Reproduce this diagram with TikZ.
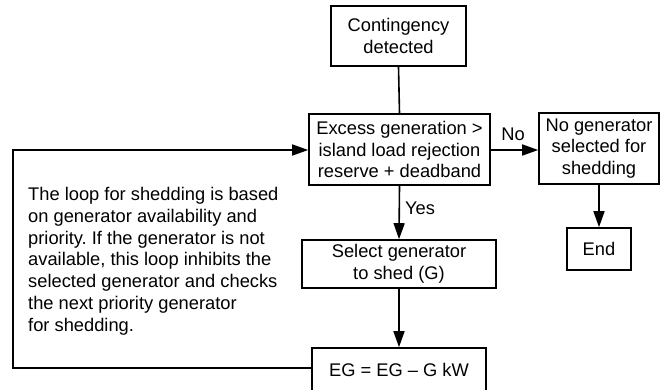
\documentclass[tikz,border=0pt]{standalone}
\usepackage{fontspec}
\setmainfont{Liberation Sans}
\usetikzlibrary{arrows.meta}
\frenchspacing
\begin{document}
\begin{tikzpicture}[x=1pt,y=-1pt,
  every node/.style={font=\fontsize{18.3}{21.8}\selectfont},
  box/.style={draw,line width=1.6pt,inner sep=0pt,align=center},
  lbl/.style={inner sep=0pt},
  conn/.style={line width=1.6pt},
  arr/.style={conn,-{Triangle[length=16pt,width=11pt]}}]
\useasboundingbox (0,0) rectangle (663,389);
\clip (0,0) rectangle (663,389);
\node[box,minimum width=135,minimum height=60] (cont) at (398.5,36) {Contingency\\detected};
\node[box,minimum width=181,minimum height=71] (exc) at (399.5,149.5) {Excess generation >\\island load rejection\\reserve + deadband};
\node[box,minimum width=120,minimum height=71] (nog) at (599,148.5) {No generator\\selected for\\shedding};
\node[box,minimum width=194,minimum height=48] (sel) at (399,264) {Select generator\\to shed (G)};
\node[box,minimum width=174,minimum height=44] (eg) at (399,370) {EG = EG – G kW};
\node[box,minimum width=64,minimum height=42] (end) at (599,249) {End};
\node[anchor=north west,inner sep=0pt,align=left] (note) at (28,187) {The loop for shedding is based\\on generator availability and\\priority. If the generator is not\\available, this loop inhibits the\\selected generator and checks\\the next priority generator\\for shedding.};
\node[lbl] (no) at (513,134) {No};
\node[lbl,anchor=west] (yes) at (405,208) {Yes};
\coordinate (lb) at (13,368);
\coordinate (lt) at (13,150);
\draw[conn] (cont.south) -- (exc.north);
\draw[arr] (exc.east |- 0,150) -- (nog.west |- 0,150);
\draw[arr] (exc.south) -- (sel.north);
\draw[arr] (sel.south) -- (eg.north);
\draw[arr] (nog.south) -- (end.north);
\draw[arr] (eg.west |- lb) -- (lb) -- (lt) -- (exc.west |- lt);
\end{tikzpicture}
\end{document}
